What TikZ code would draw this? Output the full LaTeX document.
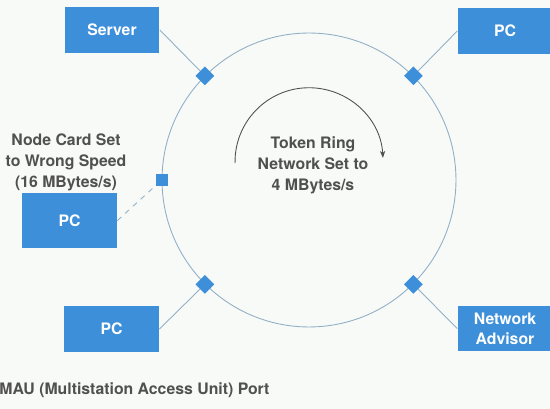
\documentclass[tikz,border=0pt]{standalone}
\usepackage{fontspec}
\setmainfont{TeX Gyre Heros}
\usepackage{tikz}
\usetikzlibrary{shapes.geometric,arrows.meta}
\definecolor{boxblue}{RGB}{60,143,216}
\definecolor{ringgray}{RGB}{145,175,198}
\definecolor{txtgray}{RGB}{80,80,80}
\definecolor{paper}{RGB}{248,250,247}

\begin{document}
\begin{tikzpicture}[scale=0.02,
  station/.style={rectangle,fill=boxblue,text=white,font=\fontsize{9}{11.5}\selectfont\bfseries,
    minimum width=1.9cm,minimum height=0.92cm,inner sep=0pt,align=center},
  port/.style={diamond,fill=boxblue,minimum width=0.38cm,minimum height=0.38cm,inner sep=0pt},
  card/.style={rectangle,fill=boxblue,minimum size=0.24cm,inner sep=0pt},
  note/.style={text=txtgray,font=\fontsize{9}{12}\selectfont\bfseries,align=center,inner sep=0pt},
  link/.style={draw=ringgray,line width=0.5pt}]
\useasboundingbox (0,0) rectangle (550,-409);
\fill[paper] (0,0) rectangle (550,-409);

% the ring
\node[circle,draw=ringgray,line width=0.5pt,minimum size=5.88cm,inner sep=0pt] (ring) at (309,-180) {};

% stations
\node[station] (server) at (112,-30) {Server};
\node[station] (pcA) at (505,-31) {PC};
\node[station,minimum height=1.1cm] (pcB) at (69.5,-220.5) {PC};
\node[station] (pcC) at (111.5,-329) {PC};
\node[station] (advisor) at (505,-328.5) {Network\\Advisor};

% ports on the ring
\coordinate (pA) at (ring.135);
\coordinate (pB) at (ring.45);
\coordinate (pC) at (ring.225);
\coordinate (pD) at (ring.315);
\coordinate (pE) at (ring.180);

\draw[link] (server.east) -- (pA);
\draw[link] (pcA.west) -- (pB);
\draw[link,dashed] (pcB.east) -- (pE);
\draw[link] (pcC.east) -- (pC);
\draw[link] (advisor.west) -- (pD);

\node[port] (portA) at (pA) {};
\node[port] (portB) at (pB) {};
\node[port] (portC) at (pC) {};
\node[port] (portD) at (pD) {};
\node[card] (wrong) at (pE) {};

% token direction
\coordinate (arcstart) at (235,-163);
\draw[txtgray,line width=0.5pt,-{Stealth[length=4pt,width=3pt]}] (arcstart) arc[start angle=181,end angle=3,radius=74];

% texts
\node[note] (speed) at (313,-165) {Token Ring\\Network Set to\\4 MBytes/s};
\node[note] (cardnote) at (66,-162) {Node Card Set\\to Wrong Speed\\(16 MBytes/s)};
\node[note,anchor=west] (legend) at (-1,-390) {MAU (Multistation Access Unit) Port};
\end{tikzpicture}
\end{document}
